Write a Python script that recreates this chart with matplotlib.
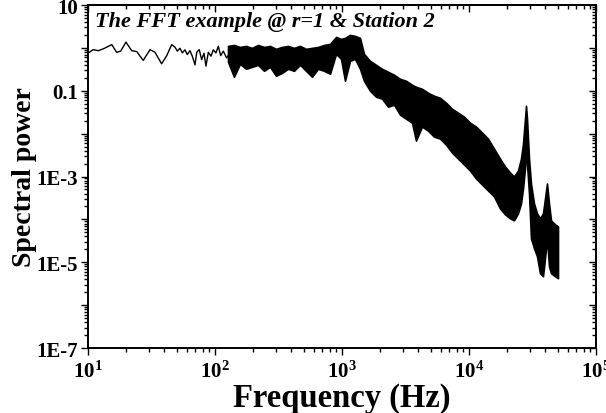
import matplotlib
matplotlib.use('Agg')
import matplotlib.pyplot as plt
from matplotlib.ticker import FixedLocator, FixedFormatter, LogLocator, NullFormatter

plt.rcParams['font.family'] = ['Liberation Serif', 'DejaVu Serif']
plt.rcParams['font.weight'] = 'bold'
plt.rcParams['mathtext.fontset'] = 'custom'
plt.rcParams['mathtext.rm'] = 'Liberation Serif:bold'
plt.rcParams['mathtext.bf'] = 'Liberation Serif:bold'
plt.rcParams['mathtext.it'] = 'Liberation Serif:bold:italic'

# ---- data ----
# low-frequency part (individual FFT bins visible as a line)
line_freq = [10.0, 11.0, 12.05, 13.2, 15.4, 16.8, 18.1, 19.9, 22.1, 24.2, 27.2, 30.8,
             33.7, 38.0, 41.7, 45.6, 48.4, 50.5, 53.0, 55.3, 58.0, 60.5, 63.5, 66.3,
             69.6, 71.8, 75.2, 78.5, 81.9, 84.9, 88.6, 93.0, 97.0, 101.8, 106.2, 110.9,
             116.2, 123.6, 131.2]
line_power = [0.75, 0.91, 0.86, 0.95, 1.19, 0.79, 0.84, 1.36, 0.86, 0.82, 0.51, 0.91,
              0.79, 0.425, 0.66, 1.19, 1.04, 0.84, 0.98, 0.765, 0.90, 0.70, 0.86, 0.64,
              0.40, 0.79, 0.91, 0.53, 0.75, 0.375, 0.79, 0.64, 0.90, 0.765, 1.09, 0.66,
              0.84, 0.58, 0.79]

# dense part: upper / lower envelope of the spectrum
band_freq = [126.6, 141.1, 157.3, 175.4, 195.6, 218.1, 243.2, 271.1, 302.3, 337.1,
             375.8, 419.0, 467.2, 520.9, 580.8, 647.6, 722.1, 805.1, 897.7, 982,
             1056, 1156, 1266, 1386, 1490, 1662, 1853, 2066, 2303, 2567,
             2862, 3191, 3558, 3824, 4265, 4755, 5301, 5910, 6590, 7348,
             8192, 9134, 10180, 11350, 12660, 14110, 15730, 17540, 19210, 21030,
             22610, 24310, 25670, 26630, 27600, 28110, 28620, 29680, 30770, 32500,
             34310, 36230, 38250, 39670, 41130, 42650, 44230, 47560, 50220]
band_upper = [1.11, 1.17, 1.05, 1.11, 1.0, 1.17, 1.05, 1.11, 0.95, 1.05,
              1.11, 1.0, 1.11, 0.95, 1.0, 1.05, 1.17, 1.24, 1.80, 1.62,
              1.71, 2.01, 1.90, 1.71, 0.725, 0.499, 0.402, 0.325, 0.277, 0.236,
              0.190, 0.171, 0.138, 0.124, 0.111, 0.0898, 0.0765, 0.0687, 0.0526, 0.0381,
              0.0308, 0.0249, 0.0180, 0.0146, 0.0106, 0.00765, 0.00448, 0.00262, 0.00171, 0.00124,
              0.001, 0.00138, 0.00262, 0.00585, 0.0223, 0.0448, 0.0223, 0.00262, 0.000687, 0.000236,
              0.000138, 0.000106, 0.000138, 0.000308, 0.000687, 0.000236, 0.0000948, 0.0000765, 0.0000687]
band_lower = [0.472, 0.212, 0.425, 0.325, 0.361, 0.402, 0.292, 0.361, 0.223, 0.262,
              0.325, 0.292, 0.402, 0.292, 0.212, 0.325, 0.292, 0.249, 0.725, 0.555,
              0.171, 0.499, 0.555, 0.325, 0.171, 0.100, 0.0725, 0.0652, 0.0425, 0.0472,
              0.0277, 0.0223, 0.0180, 0.00687, 0.0146, 0.0117, 0.00851, 0.00765, 0.00555, 0.00361,
              0.00262, 0.00190, 0.00138, 0.000898, 0.000652, 0.000472, 0.000343, 0.000180, 0.000131, 0.000106,
              0.0000948, 0.000138, 0.000236, 0.000526, 0.00154, 0.00448, 0.00201, 0.000402, 0.0000361, 0.0000212,
              0.0000138, 0.00000555, 0.00000472, 0.0000124, 0.0000361, 0.00000807, 0.00000555, 0.00000472, 0.00000425]

x_tick_values = [1e1, 1e2, 1e3, 1e4, 1e5]
x_tick_labels = [r'$10^{1}$', r'$10^{2}$', r'$10^{3}$', r'$10^{4}$', r'$10^{5}$']
y_tick_values = [1e-7, 1e-6, 1e-5, 1e-4, 1e-3, 1e-2, 1e-1, 1e0, 1e1]
y_tick_labels = ['1E-7', '', '1E-5', '', '1E-3', '', '0.1', '', '10']

title_text = 'The FFT example @ r=1 & Station 2'
x_label = 'Frequency (Hz)'
y_label = 'Spectral power'

# ---- figure ----
fig = plt.figure(figsize=(6.06, 4.14), dpi=100)
ax = fig.add_axes([0.1452, 0.1570, 0.8383, 0.8285])
ax.set_xscale('log')
ax.set_yscale('log')
ax.set_xlim(10, 1e5)
ax.set_ylim(1e-7, 10)

ax.plot(line_freq, line_power, color='black', lw=1.0)
ax.fill_between(band_freq, band_lower, band_upper, facecolor='black',
                edgecolor='black', linewidth=1.2)

ax.xaxis.set_major_locator(FixedLocator(x_tick_values))
ax.xaxis.set_major_formatter(FixedFormatter(x_tick_labels))
ax.xaxis.set_minor_locator(LogLocator(base=10, subs=range(2, 10), numticks=20))
ax.xaxis.set_minor_formatter(NullFormatter())
ax.yaxis.set_major_locator(FixedLocator(y_tick_values))
ax.yaxis.set_major_formatter(FixedFormatter(y_tick_labels))
ax.yaxis.set_minor_locator(LogLocator(base=10, subs=range(2, 10), numticks=20))
ax.yaxis.set_minor_formatter(NullFormatter())

ax.tick_params(which='both', direction='out', top=False, right=False, width=1.0)
ax.tick_params(which='major', length=5)
ax.tick_params(which='minor', length=3)
ax.tick_params(axis='y', labelsize=15, pad=2)
ax.tick_params(axis='x', labelsize=15, pad=4)
for lab in ax.get_xticklabels() + ax.get_yticklabels():
    lab.set_fontweight('bold')

for s in ax.spines.values():
    s.set_linewidth(1.4)

secx = ax.secondary_xaxis('top')
secx.xaxis.set_major_locator(FixedLocator(x_tick_values))
secx.xaxis.set_minor_locator(LogLocator(base=10, subs=range(2, 10), numticks=20))
secx.xaxis.set_major_formatter(NullFormatter())
secx.xaxis.set_minor_formatter(NullFormatter())
secx.tick_params(which='both', direction='in', width=1.0)
secx.tick_params(which='major', length=5)
secx.tick_params(which='minor', length=3)
secx.spines['top'].set_linewidth(1.4)

secy = ax.secondary_yaxis('right')
secy.yaxis.set_major_locator(FixedLocator(y_tick_values))
secy.yaxis.set_minor_locator(LogLocator(base=10, subs=range(2, 10), numticks=20))
secy.yaxis.set_major_formatter(NullFormatter())
secy.yaxis.set_minor_formatter(NullFormatter())
secy.tick_params(which='both', direction='in', width=1.0)
secy.tick_params(which='major', length=5)
secy.tick_params(which='minor', length=3)
secy.spines['right'].set_linewidth(1.4)

ax.text(0.014, 0.982, title_text, transform=ax.transAxes, ha='left', va='top',
        fontsize=16, fontweight='bold', fontstyle='italic')

ax.set_xlabel(x_label, fontsize=23.5, fontweight='bold', labelpad=0)
ax.set_ylabel(y_label, fontsize=20, fontweight='bold', labelpad=0)

fig.savefig('out.png', dpi=100)
